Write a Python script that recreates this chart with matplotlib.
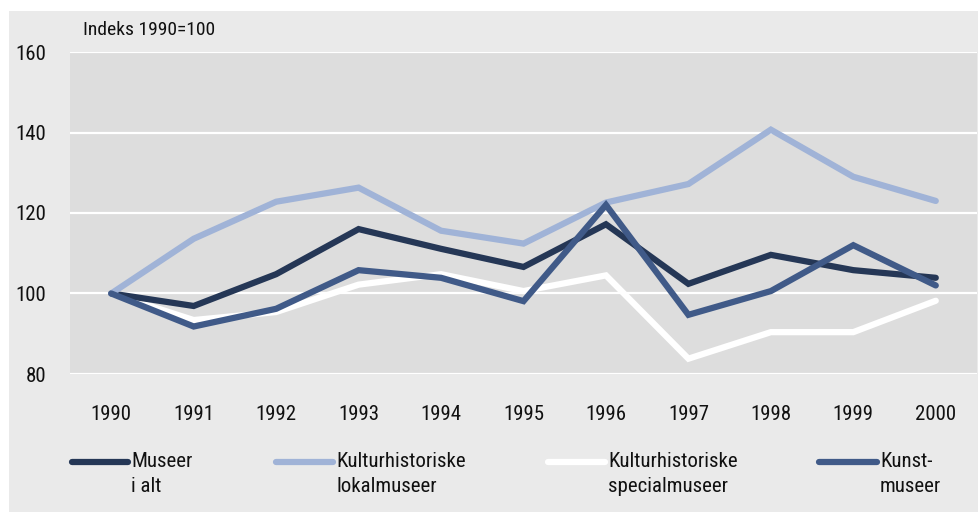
import matplotlib
matplotlib.use("Agg")
from matplotlib import pyplot as plt
from matplotlib.patches import Rectangle
from matplotlib.lines import Line2D

# Data (index 1990=100)
years = [1990, 1991, 1992, 1993, 1994, 1995, 1996, 1997, 1998, 1999, 2000]
museer_i_alt = [100, 96.9, 104.8, 116.0, 111.1, 106.6, 117.2, 102.4, 109.6, 105.8, 103.9]
lokalmuseer = [100, 113.6, 122.8, 126.3, 115.6, 112.4, 122.6, 127.2, 140.7, 129.0, 123.0]
specialmuseer = [100, 93.4, 95.4, 102.2, 104.8, 100.6, 104.5, 83.8, 90.4, 90.4, 98.2]
kunstmuseer = [100, 91.8, 96.2, 105.8, 103.9, 98.1, 122.0, 94.7, 100.6, 112.0, 102.0]

labels = ["Museer\ni alt", "Kulturhistoriske\nlokalmuseer",
          "Kulturhistoriske\nspecialmuseer", "Kunst-\nmuseer"]
colors = ["#253756", "#A0B3D7", "#FFFFFF", "#405A88"]

plt.rcParams['font.family'] = ['Liberation Sans Narrow', 'Roboto Condensed', 'DejaVu Sans']

W, H = 979, 512
fig = plt.figure(figsize=(W / 100, H / 100), dpi=100, facecolor="white")
fig.patches.append(Rectangle((9 / W, 0), 970 / W, 1 - 11 / H, transform=fig.transFigure,
                             facecolor="#EAEAEA", edgecolor="none", zorder=-5))

ax = fig.add_axes([70 / W, 1 - 374 / H, 907 / W, 322 / H])
ax.set_facecolor("#DDDDDD")
ax.set_xlim(1989.5, 2000.5)
ax.set_ylim(80, 160)
ax.set_yticks([80, 100, 120, 140, 160])
ax.set_xticks(years)
ax.grid(axis="y", color="white", linewidth=1.6)
ax.set_axisbelow(True)
for s in ax.spines.values():
    s.set_visible(False)
ax.tick_params(length=0, labelsize=15, colors="#111111")
ax.tick_params(axis="y", pad=17)
ax.tick_params(axis="x", pad=22)

all_series = [museer_i_alt, lokalmuseer, specialmuseer, kunstmuseer]
for idx in [2, 0, 1, 3]:
    ax.plot(years, all_series[idx], color=colors[idx], linewidth=4.5, solid_joinstyle="miter",
            solid_capstyle="round", clip_on=False, zorder=3 + (idx == 3))

fig.text(83 / W, 1 - 30 / H, "Indeks 1990=100", fontsize=14, va="center", ha="left",
         color="#111111")

# legend drawn by hand to keep the reference layout
leg_x = [(72, 128), (276, 333), (548, 605), (819, 877)]
for (x0, x1), lab, col in zip(leg_x, labels, colors):
    fig.lines.append(Line2D([x0 / W, x1 / W], [1 - 462 / H] * 2, transform=fig.transFigure,
                            color=col, linewidth=4.5, solid_capstyle="round"))
    fig.text((x1 + 3) / W, 1 - 452 / H, lab, fontsize=15, va="top", ha="left",
             color="#111111", linespacing=1.4)

fig.savefig("out.png", dpi=100, facecolor="white")
